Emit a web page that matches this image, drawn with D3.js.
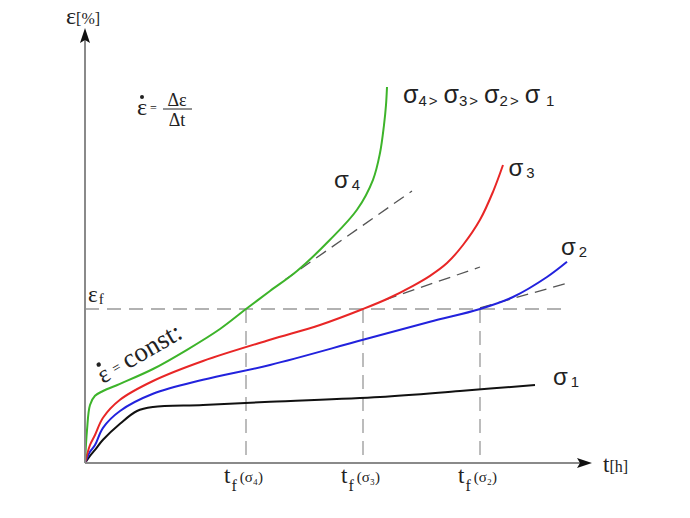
<!DOCTYPE html>
<html>
<head>
<meta charset="utf-8">
<script src="https://cdn.jsdelivr.net/npm/d3@7/dist/d3.min.js"></script>
<style>
  body { margin: 0; background: #fff; }
  svg { display: block; }
</style>
</head>
<body>
<div id="chart"></div>
<script>
// ---------------- data (t in h, ε in %) ----------------
const sigma4 = [[0,0],[0.04,0.82],[0.1,1.45],[0.2,1.68],[0.36,1.8],[0.7,1.98],[1.36,2.35],[2.04,2.83],[2.7,3.35],[3.22,3.85],[3.7,4.3],[4.24,4.8],[4.9,5.58],[5.44,6.33],[5.76,7.08],[5.9,7.75],[5.98,8.45],[6.02,8.95],[6.04,9.4]];
const sigma3 = [[0,0],[0.1,0.45],[0.2,0.7],[0.36,1.13],[0.7,1.58],[1.36,2.05],[2.36,2.55],[3.7,3.08],[4.7,3.45],[5.56,3.85],[6.04,4.1],[6.56,4.43],[6.9,4.68],[7.24,5.0],[7.56,5.45],[7.9,6.08],[8.16,6.78],[8.36,7.45]];
const sigma2 = [[0,0],[0.1,0.28],[0.2,0.45],[0.36,0.88],[0.7,1.3],[1.36,1.73],[2.36,2.08],[3.7,2.45],[5.56,3.08],[6.9,3.53],[7.9,3.85],[8.56,4.15],[9.24,4.65],[9.64,5.03]];
const sigma1 = [[0,0],[0.1,0.18],[0.2,0.33],[0.36,0.58],[0.7,0.98],[1.04,1.3],[1.36,1.4],[2.36,1.45],[3.7,1.53],[5.9,1.65],[7.5,1.8],[9.0,1.95]];
const curveNames = ['σ4', 'σ3', 'σ2', 'σ1'];
const curveColors = ['#3db42a', '#e82626', '#2222dd', '#111111'];
// tangents (secondary creep slope) [t0, e0, t1, e1]
const tangents = [[4.0,4.58,6.54,6.8],[6.0,4.08,7.9,4.9],[7.9,3.88,9.6,4.48]];
const epsF = 3.85;
const tf = [3.22, 5.56, 7.9];
const tfLabels = ['σ₄', 'σ₃', 'σ₂'];

// ---------------- layout ----------------
const width = 690;
const height = 518;
const x = d3.scaleLinear().domain([0, 10]).range([85, 585]);
const y = d3.scaleLinear().domain([0, 10]).range([463, 63]);
const axisColor = '#8a8a8a';
const dashColor = '#999';
const serif = "'Liberation Serif', 'Times New Roman', 'DejaVu Serif', serif";
const sans = "'Liberation Sans', Arial, sans-serif";

const svg = d3.select('#chart').append('svg')
  .attr('width', width)
  .attr('height', height);

// ---------------- εf / tf guides ----------------
const guides = svg.append('g').attr('class', 'guides')
  .attr('stroke', dashColor)
  .attr('stroke-width', 1.3)
  .attr('stroke-dasharray', '14 8')
  .attr('fill', 'none');
guides.append('line')
  .attr('x1', x(0)).attr('x2', x(9.66))
  .attr('y1', y(epsF)).attr('y2', y(epsF));
guides.selectAll('line.tf')
  .data(tf)
  .join('line')
  .attr('class', 'tf')
  .attr('x1', d => x(d)).attr('x2', d => x(d))
  .attr('y1', y(epsF)).attr('y2', y(0));

guides.selectAll('line.tan')
  .data(tangents)
  .join('line')
  .attr('class', 'tan')
  .attr('stroke', '#555')
  .attr('stroke-dasharray', '12 7')
  .attr('x1', d => x(d[0])).attr('y1', d => y(d[1]))
  .attr('x2', d => x(d[2])).attr('y2', d => y(d[3]));

// ---------------- curves ----------------
const line = d3.line()
  .x(d => x(d[0]))
  .y(d => y(d[1]))
  .curve(d3.curveCatmullRom.alpha(0.5));

const curves = [sigma1, sigma2, sigma3, sigma4];
const colorsBack = curveColors.slice().reverse();
svg.append('g').attr('class', 'curves')
  .selectAll('path')
  .data(curves)
  .join('path')
  .attr('d', line)
  .attr('fill', 'none')
  .attr('stroke', (d, i) => colorsBack[i])
  .attr('stroke-width', 2);

// ---------------- axes ----------------
const axes = svg.append('g').attr('class', 'axes');
axes.append('line')
  .attr('x1', x(0)).attr('x2', 580)
  .attr('y1', y(0)).attr('y2', y(0))
  .attr('stroke', axisColor).attr('stroke-width', 2);
axes.append('line')
  .attr('x1', x(0)).attr('x2', x(0))
  .attr('y1', y(0)).attr('y2', 40)
  .attr('stroke', axisColor).attr('stroke-width', 2);
axes.append('path')
  .attr('d', `M${592},${y(0)} L${577},${y(0) - 5} L${580},${y(0)} L${577},${y(0) + 5} Z`)
  .attr('fill', '#111');
axes.append('path')
  .attr('d', `M${x(0)},28 L${x(0) - 5},43 L${x(0)},40 L${x(0) + 5},43 Z`)
  .attr('fill', '#111');

// ---------------- texts ----------------
const txt = svg.append('g').attr('class', 'texts').attr('fill', '#222');

// axis titles
const yTitle = txt.append('text').attr('x', 66).attr('y', 24).attr('font-family', serif);
yTitle.append('tspan').attr('font-size', 24).text('ε');
yTitle.append('tspan').attr('font-size', 16).text('[%]');
const xTitle = txt.append('text').attr('x', 603).attr('y', 472).attr('font-family', serif);
xTitle.append('tspan').attr('font-size', 23).text('t');
xTitle.append('tspan').attr('font-size', 16).text('[h]');

// εf
const ef = txt.append('text').attr('x', 88).attr('y', 302).attr('font-family', serif);
ef.append('tspan').attr('font-size', 23).text('ε');
ef.append('tspan').attr('font-size', 15).attr('dx', 1).attr('dy', 2).text('f');

// tf(σ) ticks
const tfText = txt.selectAll('text.tf')
  .data(tf)
  .join('text')
  .attr('class', 'tf')
  .attr('x', d => x(d) - 22)
  .attr('y', 483)
  .attr('font-family', serif);
tfText.append('tspan').attr('font-size', 23).text('t');
tfText.append('tspan').attr('font-size', 16).attr('dx', 1).attr('dy', 8).text('f');
tfText.append('tspan').attr('font-size', 15).attr('dx', 3).attr('dy', -9)
  .text((d, i) => '(' + tfLabels[i] + ')');

// formula ε̇ = Δε / Δt
const fx = 137, fy = 115;
txt.append('text').attr('x', fx).attr('y', fy)
  .attr('font-family', serif).attr('font-size', 24).text('ε');
txt.append('circle').attr('cx', fx + 5).attr('cy', fy - 18).attr('r', 2).attr('fill', '#222');
txt.append('text').attr('x', fx + 13).attr('y', fy - 3)
  .attr('font-family', serif).attr('font-size', 12).text('=');
txt.append('text').attr('x', fx + 40).attr('y', fy - 9)
  .attr('text-anchor', 'middle')
  .attr('font-family', serif).attr('font-size', 18).text('Δε');
txt.append('line')
  .attr('x1', fx + 26).attr('x2', fx + 55)
  .attr('y1', fy - 6).attr('y2', fy - 6)
  .attr('stroke', '#222').attr('stroke-width', 1);
txt.append('text').attr('x', fx + 40).attr('y', fy + 11)
  .attr('text-anchor', 'middle')
  .attr('font-family', serif).attr('font-size', 18).text('Δt');

// ε̇ = const: along the green curve
const rot = txt.append('g')
  .attr('transform', 'translate(103,384) rotate(-30)');
rot.append('text').attr('x', 0).attr('y', 0)
  .attr('font-family', serif).attr('font-size', 25).text('ε');
rot.append('circle').attr('cx', 6).attr('cy', -19).attr('r', 2.2).attr('fill', '#222');
rot.append('text').attr('x', 16).attr('y', -3)
  .attr('font-family', serif).attr('font-size', 14).text('=');
rot.append('text').attr('x', 29).attr('y', 0)
  .attr('font-family', serif).attr('font-size', 27).text('const:');

// σ labels by curve ends
function sigmaLabel(px, py, sub, size) {
  const t = txt.append('text').attr('x', px).attr('y', py).attr('font-family', sans);
  t.append('tspan').attr('font-size', size).text('σ');
  t.append('tspan').attr('font-size', size * 0.62).attr('dx', 3).attr('dy', 2).text(sub);
  return t;
}
const labelAt = [
  [x(4.98), y(6.88)],
  [x(8.47), y(7.18)],
  [x(9.52), y(5.2)],
  [x(9.36), y(1.96)]
];
curveNames.forEach((n, i) => sigmaLabel(labelAt[i][0], labelAt[i][1], n.slice(1), 24));

// ordering σ4 > σ3 > σ2 > σ1
const ord = txt.append('text').attr('x', 403).attr('y', 103).attr('font-family', sans);
curveNames.forEach((n, i) => {
  ord.append('tspan').attr('font-size', 25).attr('dx', i === 0 ? 0 : 6).attr('dy', i === 0 ? 0 : -3).text('σ');
  ord.append('tspan').attr('font-size', 15).attr('dy', 3).attr('dx', i === 3 ? 6 : 0).text(n.slice(1));
  if (i < 3) ord.append('tspan').attr('font-size', 15).attr('dx', 2).text('>');
});
</script>
</body>
</html>
